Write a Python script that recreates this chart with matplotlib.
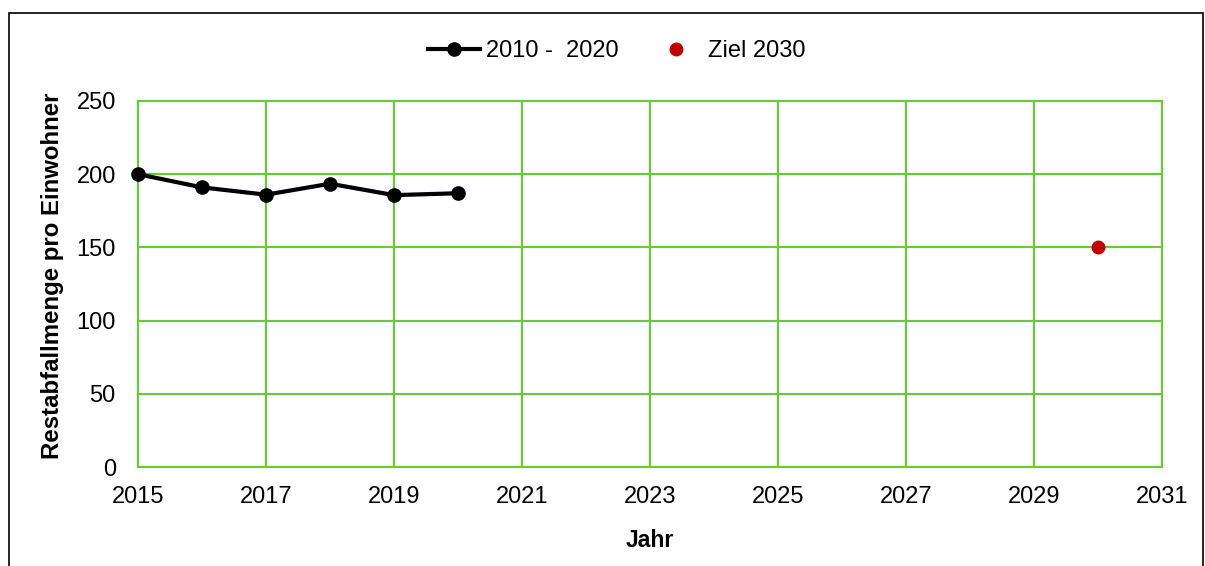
import matplotlib
matplotlib.use("Agg")
import matplotlib.pyplot as plt
from matplotlib.patches import Rectangle

plt.rcParams['font.family'] = ['Liberation Sans', 'DejaVu Sans']

years = [2015, 2016, 2017, 2018, 2019, 2020]
values = [200, 191, 186, 193.5, 185.7, 187]
target_year = [2030]
target_value = [150]
xticks = list(range(2015, 2032, 2))
yticks = [0, 50, 100, 150, 200, 250]

fig = plt.figure(figsize=(12.05, 5.66), dpi=100)
ax = fig.add_axes([138/1205, 1-467/566, (1162-138)/1205, (467-101)/566])

green = '#66CC33'
ax.plot(years, values, color='black', lw=3, marker='o', ms=9.5, label='2010 -  2020', zorder=3, clip_on=False)
ax.plot(target_year, target_value, ls='none', marker='o', ms=9, color='#C00000', label='Ziel 2030', zorder=3)

ax.set_xlim(2015, 2031)
ax.set_ylim(0, 250)
ax.set_xticks(xticks)
ax.set_yticks(yticks)
ax.grid(True, color=green, lw=1.5)
ax.set_axisbelow(True)
for s in ax.spines.values():
    s.set_color(green)
    s.set_linewidth(1.5)
ax.tick_params(axis='x', length=0, labelsize=17, pad=14)
ax.tick_params(axis='y', length=0, labelsize=17, pad=16)
ax.set_xlabel('Jahr', fontsize=16.5, fontweight='bold', labelpad=15)
ax.set_ylabel('Restabfallmenge pro Einwohner', fontsize=17.3, fontweight='bold')
ax.yaxis.set_label_coords((64 - 138) / 1024, 0.522)

leg = ax.legend(loc='center', bbox_to_anchor=((617 - 138) / 1024, 1.137), ncol=2, frameon=False,
                fontsize=17, handlelength=2.2, columnspacing=1.35, handletextpad=0.25,
                borderpad=0, borderaxespad=0)

fig.patches.append(Rectangle((9/1205, -0.1), (1203-9)/1205, 1.1 - 13/566, transform=fig.transFigure,
                             fill=False, edgecolor='black', lw=1.2))

fig.savefig('out.png', dpi=100)
